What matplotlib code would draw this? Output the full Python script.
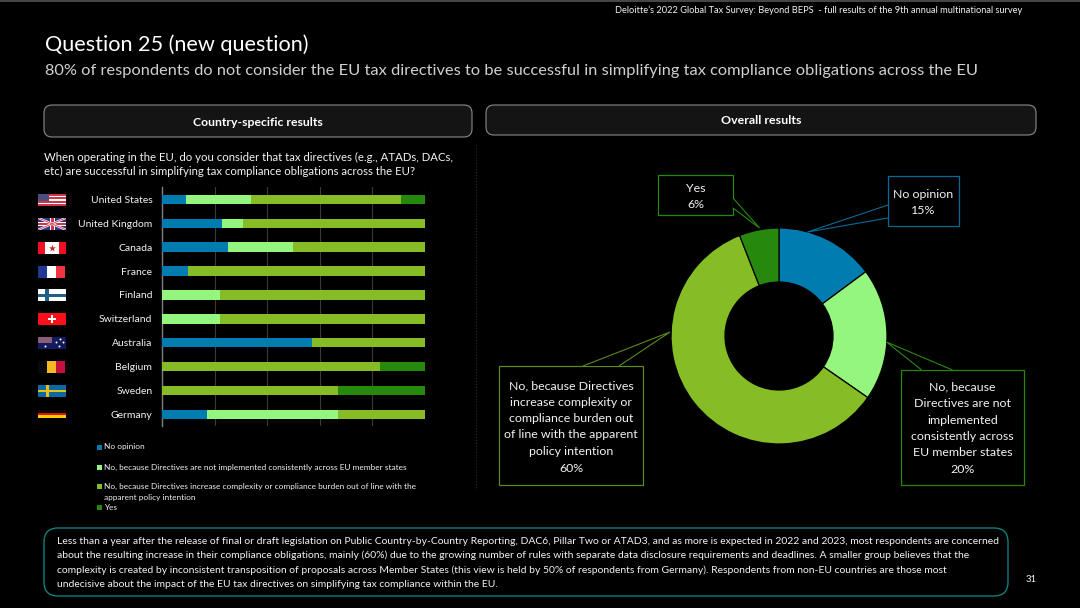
# Question 25 slide - stacked bars by country and overall donut

import matplotlib.pyplot as plt
from matplotlib.patches import FancyBboxPatch, Polygon, Rectangle
import numpy as np

plt.rcParams['font.family'] = ['Lato', 'DejaVu Sans']

countries = ["United States", "United Kingdom", "Canada", "France", "Finland",
             "Switzerland", "Australia", "Belgium", "Sweden", "Germany"]
no_opinion = [9, 23, 25, 10, 0, 0, 57, 0, 0, 17]
not_consistent = [25, 8, 25, 0, 22, 22, 0, 0, 0, 50]
complexity = [57, 69, 50, 90, 78, 78, 43, 83, 67, 33]
yes = [9, 0, 0, 0, 0, 0, 0, 17, 33, 0]

overall_values = [15, 20, 60, 6]

colors = ["#007CB0", "#94F67F", "#86BC25", "#26890D"]
legend_labels = ["No opinion",
                 "No, because Directives are not implemented consistently across EU member states",
                 "No, because Directives increase complexity or compliance burden out of line with the\napparent policy intention",
                 "Yes"]

body_lines = [
    "Less than a year after the release of final or draft legislation on Public Country-by-Country Reporting, DAC6, Pillar Two or ATAD3, and as more is expected in 2022 and 2023, most respondents are concerned",
    "about the resulting increase in their compliance obligations, mainly (60%) due to the growing number of rules with separate data disclosure requirements and deadlines. A smaller group believes that the",
    "complexity is created by inconsistent transposition of proposals across Member States (this view is held by 50% of respondents from Germany). Respondents from non-EU countries are those most",
    "undecisive about the impact of the EU tax directives on simplifying tax compliance within the EU.",
]

W, H = 1080, 608
BG = "black"
TXT = "#f2f2f2"

fig = plt.figure(figsize=(W / 100, H / 100), dpi=100, facecolor=BG)

# page layer in pixel coordinates, for the text and boxes around the charts
page = fig.add_axes([0, 0, 1, 1])
page.set_xlim(0, W)
page.set_ylim(H, 0)
page.axis("off")


def px(size):
    return size * 0.72


def rounded(x0, y0, x1, y1, edge, face="none", r=8, lw=0.9):
    page.add_patch(FancyBboxPatch((x0 + r, y0 + r), x1 - x0 - 2 * r, y1 - y0 - 2 * r,
                                  boxstyle=f"round,pad={r},rounding_size={r}",
                                  ec=edge, fc=face, lw=lw))


page.plot([0, W], [0.5, 0.5], color="#555555", lw=1.2)
page.text(1022, 10, "Deloitte’s 2022 Global Tax Survey: Beyond BEPS  - full results of the 9th annual multinational survey",
          ha="right", va="center", fontsize=px(9.3), color=TXT)
page.text(45, 45, "Question 25 (new question)", va="center", fontsize=px(21.7), color="white")
page.text(45, 71, "80% of respondents do not consider the EU tax directives to be successful in simplifying tax compliance obligations across the EU",
          va="center", fontsize=px(16.4), color="#d0d0d0")

rounded(44, 105, 472, 137, "#8a8a8a", "#141414", lw=0.8)
rounded(486, 105, 1036, 135, "#8a8a8a", "#141414", lw=0.8)
page.text(258, 122, "Country-specific results", ha="center", va="center",
          fontsize=px(12.3), color="white", fontweight="bold")
page.text(761, 121, "Overall results", ha="center", va="center",
          fontsize=px(12.4), color="white", fontweight="bold")

page.text(44, 157.5, "When operating in the EU, do you consider that tax directives (e.g., ATADs, DACs,",
          va="center", fontsize=px(11.35), color=TXT)
page.text(44, 171.5, "etc) are successful in simplifying tax compliance obligations across the EU?",
          va="center", fontsize=px(11.35), color=TXT)
page.plot([476, 476], [145, 490], color="#2a2a2a", lw=0.8, ls=":")

# stacked bars
ax = fig.add_axes([162 / W, 1 - 426.3 / H, (424.5 - 162) / W, (426.3 - 187.5) / H], facecolor=BG)
y_pos = np.arange(len(countries))
left = np.zeros(len(countries))
for series, color in zip([no_opinion, not_consistent, complexity, yes], colors):
    ax.barh(y_pos, series, left=left, height=0.4, color=color, zorder=3)
    left = left + np.array(series)
ax.set_xlim(0, 100)
ax.set_ylim(len(countries) - 0.5, -0.5)
ax.set_xticks([0, 20, 40, 60, 80, 100])
ax.grid(axis="x", color="#3a3a3a", lw=0.8, zorder=0)
ax.set_yticks(y_pos)
ax.set_yticklabels(countries, fontsize=px(10.4), color=TXT)
ax.tick_params(axis="both", length=0)
ax.tick_params(axis="y", pad=7)
ax.set_xticklabels([])
for s in ["top", "right", "bottom"]:
    ax.spines[s].set_visible(False)
ax.spines["left"].set_color("#808080")
ax.spines["left"].set_linewidth(1.0)


# small flags next to the country names
def stripes_h(y, cols, x0=38, x1=66, h=12):
    n = len(cols)
    for i, c in enumerate(cols):
        page.add_patch(Rectangle((x0, y - h / 2 + i * h / n), x1 - x0, h / n, fc=c, lw=0))


def stripes_v(y, cols, x0=38, x1=66, h=12):
    n = len(cols)
    for i, c in enumerate(cols):
        page.add_patch(Rectangle((x0 + i * (x1 - x0) / n, y - h / 2), (x1 - x0) / n, h, fc=c, lw=0))


rows = {c: 200 + 23.85 * i for i, c in enumerate(countries)}

y = rows["United States"]
stripes_h(y, ["#d0344a", "#ffffff"] * 3 + ["#d0344a"])
page.add_patch(Rectangle((38, y - 6), 11, 6.5, fc="#4a4f80", lw=0))

y = rows["United Kingdom"]
uk_back = Rectangle((38, y - 6), 28, 12, fc="#2b3a80", lw=0)
page.add_patch(uk_back)
for ends, col, width in [([y - 6, y + 6], "white", 1.6), ([y + 6, y - 6], "white", 1.6),
                         ([y - 6, y + 6], "#d0344a", 0.6), ([y + 6, y - 6], "#d0344a", 0.6)]:
    cross, = page.plot([38, 66], ends, color=col, lw=width)
    cross.set_clip_path(uk_back)
page.add_patch(Rectangle((38, y - 2), 28, 4, fc="white", lw=0))
page.add_patch(Rectangle((49.5, y - 6), 5, 12, fc="white", lw=0))
page.add_patch(Rectangle((38, y - 1), 28, 2, fc="#d0344a", lw=0))
page.add_patch(Rectangle((50.5, y - 6), 3, 12, fc="#d0344a", lw=0))

y = rows["Canada"]
stripes_v(y, ["#f01020", "#ffffff", "#ffffff", "#f01020"])
page.scatter([52], [y], marker="*", s=28, color="#d0202a", lw=0, zorder=3)

stripes_v(rows["France"], ["#1f3a93", "#ffffff", "#ef3340"], x0=38, x1=65)

y = rows["Finland"]
stripes_h(y, ["#ffffff"], x0=37.5, x1=65.5)
page.add_patch(Rectangle((37.5, y - 1.8), 28, 3.6, fc="#1f5f85", lw=0))
page.add_patch(Rectangle((45, y - 6), 4, 12, fc="#1f5f85", lw=0))

y = rows["Switzerland"]
stripes_h(y, ["#ff0f1a"])
page.add_patch(Rectangle((48, y - 1.2), 8, 2.4, fc="white", lw=0))
page.add_patch(Rectangle((50.8, y - 4), 2.4, 8, fc="white", lw=0))

y = rows["Australia"]
stripes_h(y, ["#141a5e"])
page.add_patch(Rectangle((38, y - 6), 14, 6, fc="#8a5c78", lw=0))
page.scatter([56, 60, 63, 59, 45], [y - 1, y - 4, y - 1, y + 3, y + 3], s=2, color="white", lw=0, zorder=3)

stripes_v(rows["Belgium"], ["#0a0a0a", "#f5b921", "#c8103e"], x0=38, x1=65)

y = rows["Sweden"]
stripes_h(y, ["#0a6aa1"], x0=37.5, x1=65.5)
page.add_patch(Rectangle((37.5, y - 1.2), 28, 2.4, fc="#e8c020", lw=0))
page.add_patch(Rectangle((46, y - 6), 3, 12, fc="#e8c020", lw=0))

y = rows["Germany"] - 0.7
stripes_h(y, ["#0a0a0a", "#e01010", "#ffcc00"], h=8)

# legend, laid out by hand to keep the uneven row spacing
legend_y = [447, 467, 486.5, 507]
for label, color, ly in zip(legend_labels, colors, legend_y):
    page.add_patch(Rectangle((97, ly - 2.5), 5, 5, fc=color, lw=0))
    if "\n" in label:
        page.text(104, ly - 3.5, label, va="top", fontsize=px(8.3), color=TXT, linespacing=1.65)
    else:
        page.text(104, ly, label, va="center", fontsize=px(8.3), color=TXT)

# donut
pie_ax = fig.add_axes([(779 - 108) / W, 1 - (336 + 108) / H, 216 / W, 216 / H])
pie_ax.pie(overall_values, colors=colors, startangle=90, counterclock=False, radius=1,
           wedgeprops={"width": 0.5, "edgecolor": "black", "linewidth": 0.9})
pie_ax.set_xlim(-1, 1)
pie_ax.set_ylim(-1, 1)
pie_ax.set_aspect("equal")


# callouts with pointer, tip position in page pixels
def callout(x0, y0, x1, y1, points, edge, lines, line_h, ty):
    page.add_patch(Rectangle((x0, y0), x1 - x0, y1 - y0, fc="black", ec=edge, lw=0.9))
    page.add_patch(Polygon(points, closed=False, fc="black", ec=edge, lw=0.8, zorder=2))
    for i, line in enumerate(lines):
        page.text((x0 + x1) / 2, ty + i * line_h, line, ha="center", va="center",
                  fontsize=px(12.4), color=TXT, zorder=3)


page.set_zorder(5)
page.patch.set_visible(False)

callout(658, 175, 733, 215, [(733, 198), (759.5, 228), (733, 208)], colors[3],
        ["Yes", "6%"], 16, 188)
callout(888, 176, 959, 226, [(888, 205), (807.5, 232), (888, 218)], "#0a6a96",
        ["No opinion", "15%"], 16, 194)
callout(499, 366, 643, 485, [(583, 366), (670, 332), (619, 366)], "#5c8a1a",
        ["No, because Directives", "increase complexity or", "compliance burden out",
         "of line with the apparent", "policy intention", f"{overall_values[2]}%"], 16.5, 385.5)
callout(901, 370, 1024, 485, [(921.6, 370), (886.5, 342), (952.5, 370)], colors[3],
        ["No, because", "Directives are not", "implemented", "consistently across",
         "EU member states", f"{overall_values[1]}%"], 16.5, 387)

# bottom comment box
rounded(44, 528, 1008, 596, "#0f7f80", "black", r=14, lw=1.0)
for i, line in enumerate(body_lines):
    page.text(57, 541 + i * 14.4, line, va="center", fontsize=px(10.42), color=TXT)
page.text(1031, 580, "31", ha="center", va="center", fontsize=px(9.5), color=TXT)

fig.savefig("out.png", dpi=100, facecolor=BG)
